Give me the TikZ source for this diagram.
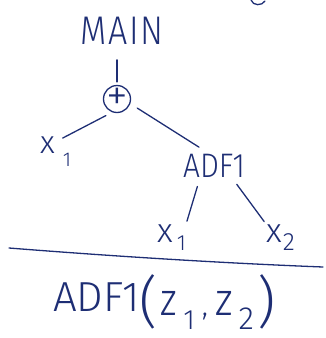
\documentclass[tikz,border=0pt]{standalone}
\usepackage{fontspec}
\setmainfont{Fira Sans Light}
\definecolor{ink}{HTML}{1E2E74}
% lowered subscript: #1 size, #2 drop, #3 text
\newcommand\inksub[3]{\raisebox{-#2}{\fontsize{#1}{#1}\selectfont #3}}
\newcommand\inkfont[1]{\fontsize{#1}{#1}\selectfont}
\begin{document}
\begin{tikzpicture}[x=1pt,y=-1pt,
  every node/.style={text=ink, inner sep=0pt},
  label/.style={font=\inkfont{#1}},
  pen/.style={draw=ink, line width=1.3pt, line cap=round, line join=round},
  edge/.style={pen}]
\useasboundingbox (0,0) rectangle (325,338);

% tree
\node[label=40, xscale=0.85] (main) at (122,31) {M\kern2pt A\kern2pt I\kern2pt N};
\node[pen, circle, minimum size=27pt] (plus) at (117,99) {};
\node[label=44] at (plus) {+};
\node[label=32, anchor=base west] (xa) at (40,153) {x\kern8pt\inksub{20}{13pt}{1}};
\node[label=34, xscale=0.88] (adf) at (214,166) {ADF1};
\node[label=34, anchor=base west] (xb) at (157,242) {x\kern4pt\inksub{22}{8pt}{1}};
\node[label=34, anchor=base west] (xc) at (266,242) {x\kern1pt\inksub{25}{8pt}{2}};

\draw[edge, shorten <=15pt, shorten >=3pt] (main.south -| plus.north) -- (plus.north);
\draw[edge] (plus.235) ++(-3,5) coordinate (pl) (pl) -- ([shift={(7,2)}]xa.north) coordinate (pla);
\draw[edge] (plus.-30) ++(8,2) coordinate (pr) (pr) -- ([shift={(16,-7)}]adf.north west);
\draw[edge, shorten <=9pt, shorten >=3pt] (adf.south) ++(-14,0) coordinate (adfl) (adfl) -- (xb.north east);
\draw[edge, shorten <=8pt, shorten >=3pt] (adf.south) ++(18,0) coordinate (adfr) (adfr) -- (xc.north west);

% separating stroke
\coordinate (rl) at (9,248);
\coordinate (rr) at (323,267);
\draw[pen] (rl) .. controls (110,256) and (220,263) .. (rr);

% definition header
\node[label=42, anchor=base west] (head) at (53,311)
  {ADF1\raisebox{-10pt}{\inkfont{56}(}\kern3pt
   \raisebox{-4pt}{\inkfont{46}\scalebox{0.85}[1]{z}}\kern6pt\inksub{28}{18pt}{1}\kern7pt\inksub{30}{4pt}{,}\kern7pt
   \raisebox{-4pt}{\inkfont{46}\scalebox{0.9}[1]{z}}\kern6pt\inksub{32}{18pt}{2}\kern4pt\raisebox{-10pt}{\inkfont{56})}};

% stray stroke at the top edge
\draw[pen] (251,0) .. controls (253,6) and (262,6) .. (265,1);
\end{tikzpicture}
\end{document}
